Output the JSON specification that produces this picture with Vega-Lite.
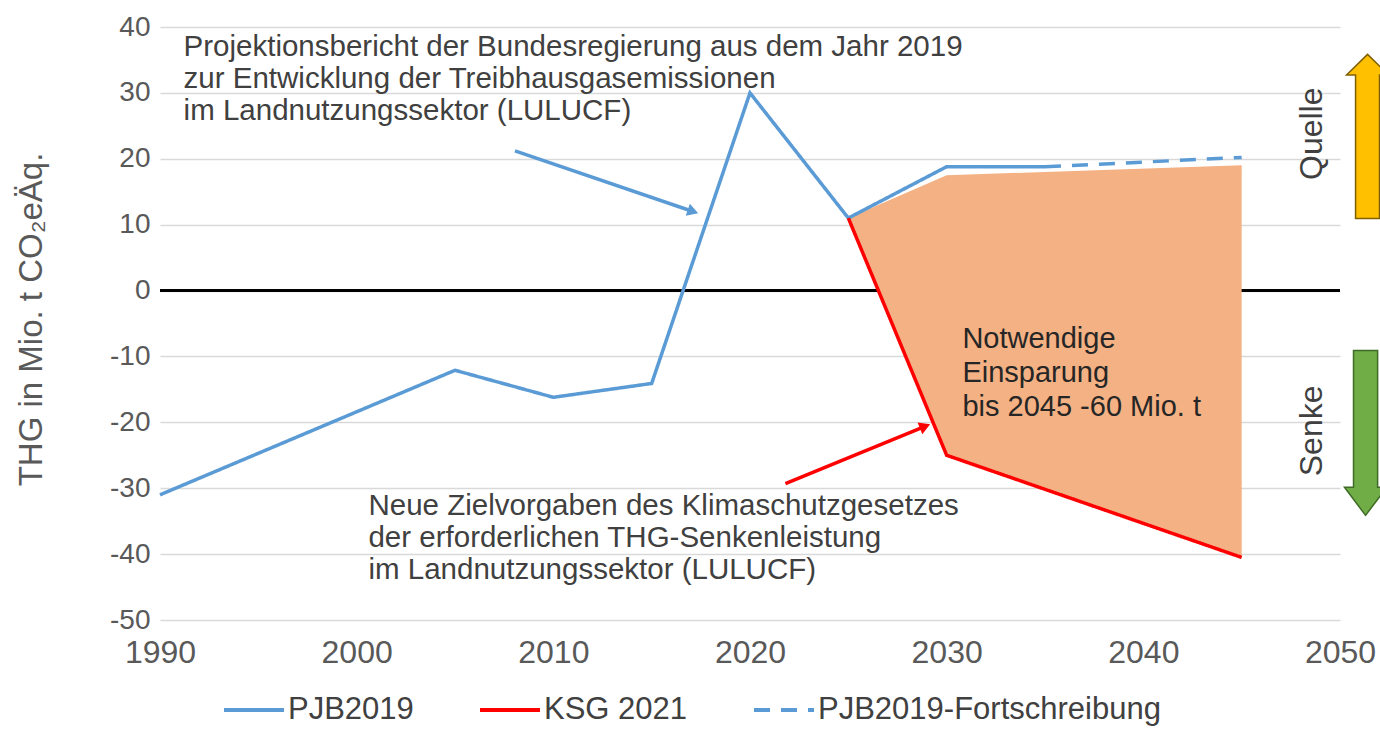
{
  "$schema": "https://vega.github.io/schema/vega-lite/v6.json",
  "width": 1180,
  "height": 593,
  "autosize": {"type": "none"},
  "padding": {"left": 160, "top": 27, "right": 40, "bottom": 109},
  "background": "white",
  "config": {
    "view": {"stroke": null},
    "font": "Liberation Sans",
    "axis": {"labelFont": "Liberation Sans", "titleFont": "Liberation Sans"},
    "legend": {"labelFont": "Liberation Sans"}
  },
  "datasets": {
    "lines": [
      {"year": 1990, "value": -31, "series": "PJB2019"},
      {"year": 2005, "value": -12.1, "series": "PJB2019"},
      {"year": 2010, "value": -16.2, "series": "PJB2019"},
      {"year": 2015, "value": -14.1, "series": "PJB2019"},
      {"year": 2020, "value": 30, "series": "PJB2019"},
      {"year": 2025, "value": 11, "series": "PJB2019"},
      {"year": 2030, "value": 18.8, "series": "PJB2019"},
      {"year": 2035, "value": 18.8, "series": "PJB2019"},
      {"year": 2025, "value": 11, "series": "KSG 2021"},
      {"year": 2030, "value": -25, "series": "KSG 2021"},
      {"year": 2045, "value": -40.5, "series": "KSG 2021"},
      {"year": 2035, "value": 18.8, "series": "PJB2019-Fortschreibung"},
      {"year": 2045, "value": 20.2, "series": "PJB2019-Fortschreibung"}
    ],
    "gap": [
      {"year": 2025, "top": 11, "bottom": 11},
      {"year": 2030, "top": 17.5, "bottom": -25},
      {"year": 2045, "top": 19, "bottom": -40.5}
    ],
    "zero": [{"x1": 1990, "x2": 2050, "v": 0}],
    "arrows": [
      {"x1": 2008.05, "y1": 21.2, "x2": 2017.1, "y2": 12.0, "col": "#5B9BD5", "ang": 19},
      {"x1": 2021.8, "y1": -29.3, "x2": 2028.9, "y2": -20.6, "col": "#FF0000", "ang": 338}
    ],
    "notes": [
      {"year": 1991.2, "value": 39.1, "txt": ["Projektionsbericht der Bundesregierung aus dem Jahr 2019", "zur Entwicklung der Treibhausgasemissionen", "im Landnutzungssektor (LULUCF)"]},
      {"year": 2000.6, "value": -30.6, "txt": ["Neue Zielvorgaben des Klimaschutzgesetzes", "der erforderlichen THG-Senkenleistung", "im Landnutzungssektor (LULUCF)"]}
    ],
    "inner": [
      {"year": 2030.8, "value": -5.2, "txt": ["Notwendige", "Einsparung", "bis 2045 -60 Mio. t"]}
    ],
    "side": [
      {"year": 2048.6, "value": 23.8, "txt": "Quelle"},
      {"year": 2048.6, "value": -21.3, "txt": "Senke"}
    ],
    "bigarrows": [
      {"year": 2051.4, "value": 23.4, "kind": "up"},
      {"year": 2051.3, "value": -21.6, "kind": "down"}
    ]
  },
  "layer": [
    {
      "data": {"name": "zero"},
      "mark": {"type": "rule", "color": "#000000", "strokeWidth": 3},
      "encoding": {
        "x": {"field": "x1", "type": "quantitative", "scale": {"domain": [1990, 2050], "nice": false, "zero": false},
              "axis": {"values": [1990, 2000, 2010, 2020, 2030, 2040, 2050], "format": "d", "labelFontSize": 32, "labelColor": "#595959", "domain": false, "ticks": false, "grid": false, "labelPadding": 17, "title": null, "labelFlush": false}},
        "x2": {"field": "x2"},
        "y": {"field": "v", "type": "quantitative", "scale": {"domain": [-50, 40], "nice": false, "zero": false},
              "axis": {"values": [-50, -40, -30, -20, -10, 0, 10, 20, 30, 40], "labelExpr": "toString(datum.value)", "labelFontSize": 28, "labelColor": "#595959", "domain": false, "ticks": false, "grid": true, "gridColor": "#D9D9D9", "gridWidth": 1.5, "labelPadding": 10,
                       "title": "THG in Mio. t CO₂eÄq.", "titleFontSize": 33, "titleFontWeight": "normal", "titleColor": "#595959", "titleX": -112, "titleY": 292}}
      }
    },
    {
      "data": {"name": "gap"},
      "mark": {"type": "area", "color": "#F4B183", "opacity": 1},
      "encoding": {
        "x": {"field": "year", "type": "quantitative"},
        "y": {"field": "top", "type": "quantitative"},
        "y2": {"field": "bottom"}
      }
    },
    {
      "data": {"name": "lines"},
      "mark": {"type": "line", "strokeWidth": 3.5},
      "encoding": {
        "x": {"field": "year", "type": "quantitative"},
        "y": {"field": "value", "type": "quantitative"},
        "color": {"field": "series", "type": "nominal",
                  "scale": {"domain": ["PJB2019", "KSG 2021", "PJB2019-Fortschreibung"], "range": ["#5B9BD5", "#FF0000", "#5B9BD5"]},
                  "legend": {"title": null, "orient": "none", "direction": "horizontal", "legendX": 62, "legendY": 651,
                             "symbolType": "stroke", "symbolSize": 3600, "symbolStrokeWidth": 4, "labelFontSize": 31, "labelColor": "#404040", "columnPadding": 58, "labelOffset": 2, "labelLimit": 0}},
        "strokeDash": {"field": "series", "type": "nominal",
                       "scale": {"domain": ["PJB2019", "KSG 2021", "PJB2019-Fortschreibung"], "range": [[1, 0], [1, 0], [16, 11]]},
                       "legend": {"title": null, "orient": "none", "direction": "horizontal", "legendX": 62, "legendY": 651,
                                  "symbolType": "stroke", "symbolSize": 3600, "symbolStrokeWidth": 4, "labelFontSize": 31, "labelColor": "#404040", "columnPadding": 58, "labelOffset": 2, "labelLimit": 0}}
      }
    },
    {
      "data": {"name": "arrows"},
      "mark": {"type": "rule", "strokeWidth": 3.5},
      "encoding": {
        "x": {"field": "x1", "type": "quantitative"},
        "y": {"field": "y1", "type": "quantitative"},
        "x2": {"field": "x2"},
        "y2": {"field": "y2"},
        "color": {"field": "col", "type": "nominal", "scale": null, "legend": null}
      }
    },
    {
      "data": {"name": "arrows"},
      "mark": {"type": "point", "shape": "triangle-right", "filled": true, "size": 160, "opacity": 1},
      "encoding": {
        "x": {"field": "x2", "type": "quantitative"},
        "y": {"field": "y2", "type": "quantitative"},
        "angle": {"field": "ang", "type": "quantitative", "scale": null},
        "color": {"field": "col", "type": "nominal", "scale": null, "legend": null}
      }
    },
    {
      "data": {"name": "notes"},
      "mark": {"type": "text", "align": "left", "baseline": "top", "fontSize": 29.5, "lineHeight": 32, "color": "#404040"},
      "encoding": {
        "x": {"field": "year", "type": "quantitative"},
        "y": {"field": "value", "type": "quantitative"},
        "text": {"field": "txt"}
      }
    },
    {
      "data": {"name": "inner"},
      "mark": {"type": "text", "align": "left", "baseline": "top", "fontSize": 29, "lineHeight": 34, "color": "#262626"},
      "encoding": {
        "x": {"field": "year", "type": "quantitative"},
        "y": {"field": "value", "type": "quantitative"},
        "text": {"field": "txt"}
      }
    },
    {
      "data": {"name": "side"},
      "mark": {"type": "text", "align": "center", "baseline": "middle", "fontSize": 32, "angle": 270, "color": "#404040"},
      "encoding": {
        "x": {"field": "year", "type": "quantitative"},
        "y": {"field": "value", "type": "quantitative"},
        "text": {"field": "txt"}
      }
    },
    {
      "data": {"name": "bigarrows"},
      "transform": [{"filter": "datum.kind === 'up'"}],
      "mark": {"type": "point", "filled": true, "opacity": 1, "size": 26896, "color": "#FFC000", "stroke": "#7F6000", "strokeWidth": 1.5,
               "shape": "M0,-1 L0.256,-0.75 L0.146,-0.75 L0.146,1 L-0.146,1 L-0.146,-0.75 L-0.256,-0.75 Z"},
      "encoding": {
        "x": {"field": "year", "type": "quantitative"},
        "y": {"field": "value", "type": "quantitative"}
      }
    },
    {
      "data": {"name": "bigarrows"},
      "transform": [{"filter": "datum.kind === 'down'"}],
      "mark": {"type": "point", "filled": true, "opacity": 1, "size": 27225, "color": "#70AD47", "stroke": "#3E6B25", "strokeWidth": 1.5,
               "shape": "M0,1 L0.256,0.66 L0.146,0.66 L0.146,-1 L-0.146,-1 L-0.146,0.66 L-0.256,0.66 Z"},
      "encoding": {
        "x": {"field": "year", "type": "quantitative"},
        "y": {"field": "value", "type": "quantitative"}
      }
    }
  ]
}
